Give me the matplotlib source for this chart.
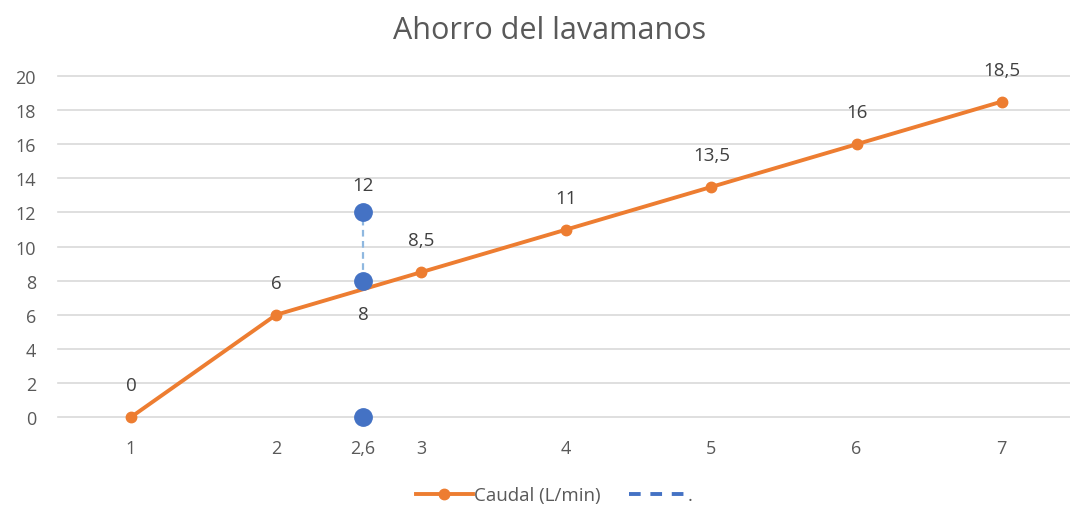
import matplotlib.pyplot as plt

plt.rcParams["font.family"] = ["Open Sans", "DejaVu Sans"]

# flow series (L/min)
x_caudal = [1, 2, 3, 4, 5, 6, 7]
y_caudal = [0, 6, 8.5, 11, 13.5, 16, 18.5]
labels_caudal = ["0", "6", "8,5", "11", "13,5", "16", "18,5"]

# marker series at x = 2,6
x_mark = [2.6, 2.6, 2.6]
y_mark = [0, 8, 12]
labels_mark = ["", "8", "12"]

x_ticks = [1, 2, 2.6, 3, 4, 5, 6, 7]
x_ticklabels = ["1", "2", "2,6", "3", "4", "5", "6", "7"]
y_ticks = list(range(0, 21, 2))

orange = "#ED7D31"
blue = "#4472C4"
grey = "#595959"

fig = plt.figure(figsize=(10.7, 5.1), dpi=100)
ax = fig.add_axes([0.0545, 0.180, 0.9495, 0.669])

ax.plot(x_caudal, y_caudal, color=orange, lw=2.8, marker="o", ms=7.5,
        label="Caudal (L/min)", zorder=3, clip_on=False)

# dashed connector between the upper two markers
ax.plot(x_mark[1:], y_mark[1:], color="#8FB8E0", lw=1.6, ls=(0, (3, 2)), zorder=2)
ax.plot(x_mark, y_mark, ls="none", marker="o", ms=12.5, color=blue, zorder=4, clip_on=False)
ax.plot([], [], color=blue, lw=2.8, ls=(0, (3, 2.5)), label=".")

for x, y, t in zip(x_caudal, y_caudal, labels_caudal):
    ax.annotate(t, (x, y), xytext=(0, 23), textcoords="offset points",
                ha="center", va="center", fontsize=13.5, color="#404040")
for x, y, t in zip(x_mark, y_mark, labels_mark):
    if not t:
        continue
    dy = 20 if y > 10 else -24
    ax.annotate(t, (x, y), xytext=(0, dy), textcoords="offset points",
                ha="center", va="center", fontsize=13.5, color="#404040")

ax.set_xlim(0.5, 7.5)
ax.set_ylim(0, 20)
ax.set_xticks(x_ticks)
ax.set_xticklabels(x_ticklabels)
ax.set_yticks(y_ticks)
ax.tick_params(length=0, labelsize=13, colors=grey)
ax.tick_params(axis="x", pad=16)
ax.tick_params(axis="y", pad=16)
ax.yaxis.grid(True, color="#D9D9D9", lw=1.2)
for gl in ax.get_ygridlines():
    gl.set_clip_on(False)
ax.set_axisbelow(True)
for s in ax.spines.values():
    s.set_visible(False)

fig.text(0.514, 0.94, "Ahorro del lavamanos", ha="center", va="center",
         fontsize=22, color=grey)

fig.legend(loc="center", bbox_to_anchor=(0.518, 0.027), ncol=2, frameon=False,
           fontsize=13.5, labelcolor=grey, handlelength=3.0, handletextpad=0.1,
           columnspacing=1.5)

fig.savefig("out.png", dpi=100)
